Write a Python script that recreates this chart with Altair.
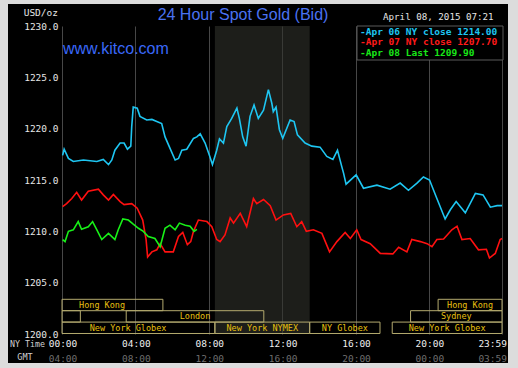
import altair as alt
import pandas as pd

# ---- data (minutes after NY midnight, USD/oz) ----
cyan_t = [2,7,21,37,70,114,135,152,163,173,190,203,214,225,228,233,246,255,277,294,
          310,326,337,353,370,381,392,408,430,441,452,468,482,492,506,515,528,539,555,572,
          580,591,602,615,628,642,659,675,686,691,700,711,722,746,759,770,795,817,844,866,
          886,901,915,921,929,962,986,1030,1073,1106,1133,1161,1182,1202,1226,1253,1270,1289,1319,1352,
          1377,1401,1423,1439]
cyan_v = [1217.4,1218.0,1217.1,1216.8,1216.95,1216.8,1217.0,1216.5,1216.95,1217.9,
          1218.6,1218.6,1218.0,1218.3,1220.2,1222.1,1222.0,1221.2,1220.85,1220.9,
          1220.7,1220.5,1219.2,1218.1,1216.95,1217.1,1217.9,1218.0,1219.05,1219.2,
          1219.5,1218.6,1217.4,1216.5,1217.9,1219.0,1218.6,1220.2,1221.0,1222.0,
          1221.0,1219.2,1218.3,1221.2,1222.3,1221.0,1221.8,1223.8,1222.5,1221.65,
          1222.1,1219.9,1219.05,1220.85,1220.7,1219.4,1218.6,1218.3,1218.2,1217.3,
          1217.0,1217.9,1216.3,1215.65,1214.6,1215.5,1214.2,1214.5,1214.1,1214.7,
          1214.0,1214.7,1215.3,1215.0,1213.2,1211.2,1212.1,1212.9,1211.8,1213.7,
          1213.55,1212.35,1212.5,1212.5]

red_t = [2,15,32,48,64,86,119,135,152,168,190,203,228,246,264,275,280,294,310,321,
         337,364,381,395,410,421,430,446,474,490,506,517,533,550,561,583,604,626,637,659,
         681,700,724,748,768,784,799,822,850,875,899,926,943,964,978,1008,1041,1082,1101,1128,
         1144,1172,1194,1210,1226,1248,1275,1292,1308,1335,1362,1388,1398,1417,1433,1439]
red_v = [1212.4,1212.7,1213.2,1213.8,1213.05,1213.9,1214.1,1213.55,1213.05,1213.6,
         1212.9,1212.6,1212.7,1212.25,1211.1,1209.2,1207.5,1208.0,1208.2,1208.8,
         1208.0,1208.0,1209.5,1209.9,1208.7,1209.0,1210.0,1211.1,1210.95,1210.45,
         1209.2,1209.0,1209.65,1211.3,1210.8,1211.75,1210.45,1213.2,1212.7,1213.1,
         1212.5,1211.1,1211.6,1211.75,1210.45,1210.95,1210.0,1210.15,1209.8,1208.0,
         1209.0,1209.9,1209.3,1210.15,1209.2,1208.8,1207.85,1207.8,1208.45,1208.0,
         1209.2,1209.0,1208.8,1208.5,1209.2,1209.25,1210.15,1210.5,1209.2,1209.3,
         1208.2,1208.25,1207.4,1207.85,1209.2,1209.3]

green_t = [2,10,21,37,53,64,86,100,114,130,152,173,184,199,217,233,250,266,282,304,
           321,337,353,370,384,403,419,432,441]
green_v = [1209.2,1209.0,1210.0,1210.15,1210.95,1210.2,1210.45,1210.95,1210.15,1209.2,
           1209.8,1209.2,1210.15,1211.2,1211.1,1210.7,1210.3,1210.0,1209.5,1209.3,
           1208.5,1210.3,1210.6,1210.15,1210.8,1210.6,1210.5,1210.0,1210.2]

legend_text = ["-Apr 06 NY close 1214.00", "-Apr 07 NY close 1207.70", "-Apr 08 Last 1209.90"]

sess_label = ["Hong Kong", "", "London", "New York Globex", "New York NYMEX",
              "NY Globex", "New York Globex", "Sydney", "Hong Kong"]
sess_start = [-68, -68, 210, -68, 500, 810, 1080, 1140, 1230]
sess_end = [330, 60, 660, 500, 810, 1040, 1439, 1439, 1439]
sess_row = [1, 2, 2, 3, 3, 3, 3, 2, 1]

nymex_start, nymex_end = [500], [810]

tick_m = [0, 240, 480, 720, 960, 1200, 1439]
ny_labels = ["00:00", "04:00", "08:00", "12:00", "16:00", "20:00", "23:59"]
gmt_labels = ["04:00", "08:00", "12:00", "16:00", "20:00", "00:00", "03:59"]
grid_m = [0, 120, 240, 360, 480, 600, 720, 840, 960, 1080, 1200, 1320, 1439]
y_ticks = [1200, 1205, 1210, 1215, 1220, 1225, 1230]

# ---- styling ----
MONO = "DejaVu Sans Mono"
GRID = "#474747"
tscale = alt.Scale(domain=[0, 1439], nice=False, zero=False)
pscale = alt.Scale(domain=[1200, 1230], nice=False, zero=False)
one = pd.DataFrame({"k": [0]})

shade = alt.Chart(pd.DataFrame({"s": nymex_start, "e": nymex_end})).mark_rect(
    color="#30322b", opacity=0.6
).encode(
    x=alt.X("s:Q", scale=tscale, title=None,
            axis=alt.Axis(values=grid_m, labels=False, ticks=False, domain=False,
                          gridColor=GRID, gridWidth=1, title=None)),
    x2="e:Q",
    y=alt.datum(1200, scale=pscale, axis=alt.Axis(values=y_ticks, format=".1f",
                labelColor="#e6e6e6", labelFont=MONO, labelFontSize=9.5,
                labelPadding=4, ticks=False, domain=False, gridColor=GRID,
                gridWidth=1, title=None)),
    y2=alt.datum(1230),
)

def line(t, v, color):
    return alt.Chart(pd.DataFrame({"t": t, "v": v})).mark_line(
        color=color, strokeWidth=1.6
    ).encode(
        x=alt.X("t:Q", scale=tscale, title=None),
        y=alt.Y("v:Q", scale=pscale, title=None),
    )

l_cyan = line(cyan_t, cyan_v, "#1ec6f2")
l_red = line(red_t, red_v, "#ff1010")
l_green = line(green_t, green_v, "#18f018")

sess = pd.DataFrame({"label": sess_label, "start": sess_start, "end": sess_end, "row": sess_row})
sess_base = alt.Chart(sess).transform_calculate(
    s0="max(datum.start, 0)",
    mid="(datum.start + datum.end) / 2",
    ytop="1200.05 + (4 - datum.row) * 1.11",
    ybot="1200.05 + (3 - datum.row) * 1.11",
    ymid="1200.05 + (3.5 - datum.row) * 1.11",
)
sess_boxes = sess_base.mark_rect(fill=None, stroke="#b4aa6e", strokeWidth=1).encode(
    x=alt.X("s0:Q", scale=tscale, title=None), x2="end:Q",
    y=alt.Y("ytop:Q", scale=pscale, title=None), y2="ybot:Q",
)
sess_text = sess_base.mark_text(font=MONO, fontSize=8.5, color="#e8c010",
                                baseline="middle", align="center").encode(
    x=alt.X("mid:Q", scale=tscale, title=None),
    y=alt.Y("ymid:Q", scale=pscale, title=None),
    text="label:N",
)

ticks = pd.DataFrame({"m": tick_m, "ny": ny_labels, "gmt": gmt_labels})
tick_base = alt.Chart(ticks)
TFS = 9.5
ny_mid = tick_base.transform_filter("datum.m < 1439").mark_text(
    font=MONO, fontSize=TFS, color="#eeeeee", align="center", baseline="middle", dx=1
).encode(x=alt.X("m:Q", scale=tscale, title=None), y=alt.value(317.5), text="ny:N")
ny_end = tick_base.transform_filter("datum.m == 1439").mark_text(
    font=MONO, fontSize=TFS, color="#eeeeee", align="right", baseline="middle", dx=5
).encode(x=alt.X("m:Q", scale=tscale, title=None), y=alt.value(317.5), text="ny:N")
gmt_mid = tick_base.transform_filter("datum.m < 1439").mark_text(
    font=MONO, fontSize=TFS, color="#6e6e6e", align="center", baseline="middle", dx=1
).encode(x=alt.X("m:Q", scale=tscale, title=None), y=alt.value(333), text="gmt:N")
gmt_end = tick_base.transform_filter("datum.m == 1439").mark_text(
    font=MONO, fontSize=TFS, color="#6e6e6e", align="right", baseline="middle", dx=5
).encode(x=alt.X("m:Q", scale=tscale, title=None), y=alt.value(333), text="gmt:N")

def label(txt, x, y, color, size, font=MONO, align="left", weight="normal"):
    return alt.Chart(one).mark_text(
        text=txt, color=color, fontSize=size, font=font, align=align,
        baseline="middle", fontWeight=weight
    ).encode(x=alt.value(x), y=alt.value(y))

title = label("24 Hour Spot Gold (Bid)", 181, -11, "#4a72f2", 16, font="Liberation Sans", align="center")
kitco = label("www.kitco.com", 1, 23, "#3a68f8", 16, font="Liberation Sans")
stamp = label("April 08, 2015 07:21", 321, -9, "#e6e6e6", 9.2)
usd = label("USD/oz", -4, -13, "#e6e6e6", 9.5, align="right")
nytime = label("NY Time", -52, 319, "#d0d0d0", 8.3)
gmt = label("GMT", -37, 331, "#d0d0d0", 8.5, align="center")

legend_box = alt.Chart(one).mark_rect(fill="#000000", stroke="#5a5a5a", strokeWidth=1).encode(
    x=alt.value(295), x2=alt.value(441), y=alt.value(0), y2=alt.value(34)
)
leg1 = label(legend_text[0], 298, 5.7, "#1ec6f2", 9.5, weight="bold")
leg2 = label(legend_text[1], 298, 16.3, "#ff1a1a", 9.5, weight="bold")
leg3 = label(legend_text[2], 298, 27.3, "#18e818", 9.5, weight="bold")

frame = alt.Chart(one).mark_rect(fill=None, stroke="#dcdcdc", strokeWidth=12).encode(
    x=alt.value(-60), x2=alt.value(452), y=alt.value(-28), y2=alt.value(343)
)

chart = alt.layer(
    shade, sess_boxes, sess_text, l_cyan, l_red, l_green,
    ny_mid, ny_end, gmt_mid, gmt_end,
    title, kitco, stamp, usd, nytime, gmt,
    legend_box, leg1, leg2, leg3, frame,
).properties(
    width=440, height=308,
    padding={"left": 62, "top": 26, "right": 16, "bottom": 34},
    autosize=alt.AutoSizeParams(type="none"),
    background="#000000",
).configure_view(stroke=None)

chart.save("out.html", embed_options={"renderer": "svg", "actions": False})
